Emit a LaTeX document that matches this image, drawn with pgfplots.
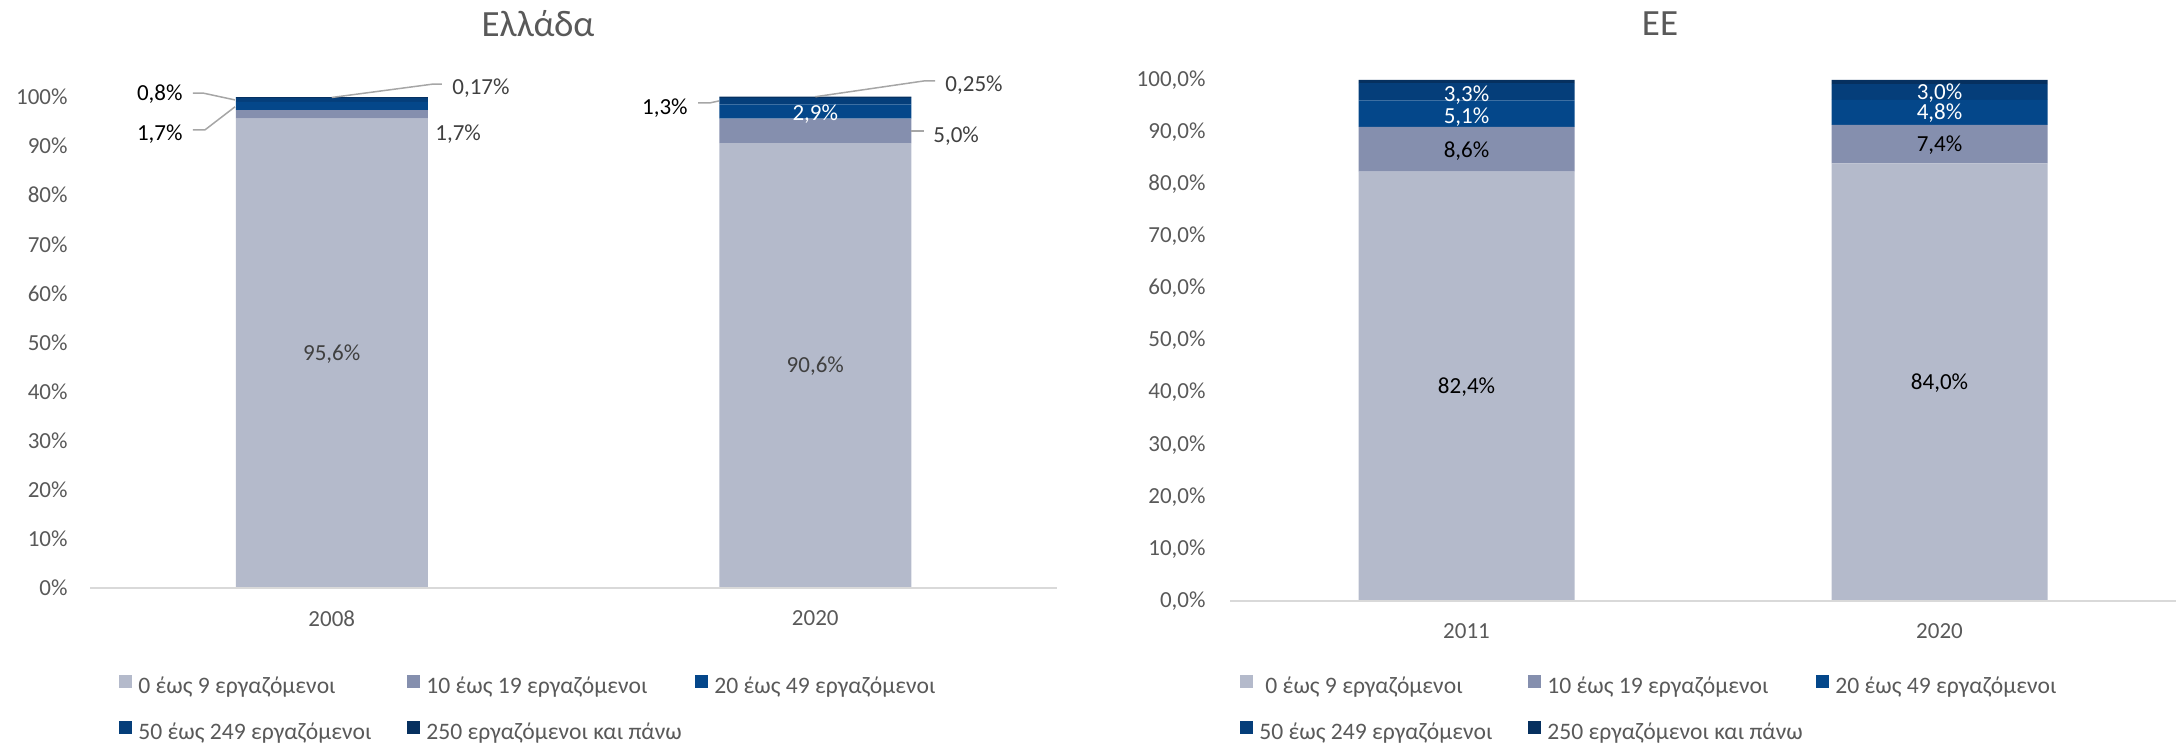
\documentclass[border=0pt]{standalone}
\usepackage{fontspec}
\setmainfont{Carlito}
\usepackage{pgfplots}
\usepackage{pgfplotstable}
\pgfplotsset{compat=1.18}
\definecolor{cA}{HTML}{B4BACB}
\definecolor{cB}{HTML}{858FAE}
\definecolor{cC}{HTML}{04478A}
\definecolor{cD}{HTML}{053E7A}
\definecolor{cE}{HTML}{06305F}
\definecolor{txt}{HTML}{595959}
\definecolor{lbl}{HTML}{404040}
\definecolor{lead}{HTML}{A6A6A6}
\definecolor{axln}{HTML}{D9D9D9}

% share of enterprises by size class (%)
\pgfplotstableread{
x a b c d e
0 95.6 1.7 1.7 0.8 0.17
1 90.6 5.0 2.9 1.3 0.25
}\grdata
\pgfplotstableread{
x a b c d e
0 82.4 8.6 5.1 3.3 0.6
1 84.0 7.4 4.8 3.0 0.8
}\eudata

\tikzset{lab/.style={font=\fontsize{11.5}{13}\selectfont, inner sep=0pt, text height=7.3pt, text depth=0pt}}

\pgfplotsset{
  sqlegend/.style={legend image code/.code={\fill[##1] (0pt,-0.05pt) rectangle (6.5pt,6.45pt);}},
  frame/.style={scale only axis, anchor=south west, xmin=-0.5, xmax=1.5, ymin=0, ymax=100, clip=false},
  labels/.style={frame, hide axis},
  barchart/.style={
    frame,
    ybar stacked,
    xtick={0,1}, ytick={0,10,...,100},
    axis line style={draw=none}, major tick length=0pt, tick style={draw=none},
    tick label style={font=\fontsize{11.5}{13}\selectfont, text=txt},
    xticklabel style={yshift=-7.7pt},
    legend columns=3,
    legend style={draw=none, fill=none, anchor=north west, inner sep=0pt, row sep=11pt,
      font=\fontsize{11.8}{13}\selectfont, text=txt,
      nodes={inner sep=0pt, text height=8pt, text depth=2.5pt},
      /tikz/every odd column/.style={column sep=3pt}},
  },
}

\begin{document}
\begin{tikzpicture}
\path[use as bounding box] (0,0) rectangle (1089pt,371.5pt);

% Greece
\begin{axis}[barchart,
    at={(45pt,77.5pt)}, width=483.5pt, height=245.5pt, bar width=96pt,
    xticklabels={2008,2020},
    yticklabels={0\%,10\%,20\%,30\%,40\%,50\%,60\%,70\%,80\%,90\%,100\%},
    yticklabel style={xshift=-7.7pt},
    legend style={at={(0.030,-0.1772)}},
  ]
  \addplot[fill=cA, draw=none, sqlegend] table[x=x,y=a]{\grdata};
  \addlegendentry{\makebox[134.5pt][l]{0 έως 9 εργαζόμενοι}}
  \addplot[fill=cB, draw=none, sqlegend] table[x=x,y=b]{\grdata};
  \addlegendentry{\makebox[134.5pt][l]{10 έως 19 εργαζόμενοι}}
  \addplot[fill=cC, draw=none, sqlegend] table[x=x,y=c]{\grdata};
  \addlegendentry{\makebox[134.5pt][l]{20 έως 49 εργαζόμενοι}}
  \addplot[fill=cD, draw=none, sqlegend] table[x=x,y=d]{\grdata};
  \addlegendentry{\makebox[134.5pt][l]{50 έως 249 εργαζόμενοι}}
  \addplot[fill=cE, draw=none, sqlegend] table[x=x,y=e]{\grdata};
  \addlegendentry{\makebox[134.5pt][l]{250 εργαζόμενοι και πάνω}}
\end{axis}
% labels over the Greek bars
\begin{axis}[labels, at={(45pt,77.5pt)}, width=483.5pt, height=245.5pt]
  \draw[axln, line width=1pt] (axis cs:-0.5,0) -- (axis cs:1.5,0);
  % 2008
  \draw[lead, line width=0.75pt] (axis cs:-0.287,100.8) -- (axis cs:-0.2663,100.8) -- (axis cs:-0.2001,99.4);
  \draw[lead, line width=0.75pt] (axis cs:-0.287,93.3) -- (axis cs:-0.2622,93.3) -- (axis cs:-0.2001,98.0);
  \draw[lead, line width=0.75pt] (axis cs:0.228,102.6) -- (axis cs:0.2073,102.6) -- (axis cs:0,99.9);
  \node[lab, anchor=east] at (axis cs:-0.3077,100.8) {0,8\%};
  \node[lab, anchor=east] at (axis cs:-0.3077,92.7) {1,7\%};
  \node[lab, anchor=west, text=lbl] at (axis cs:0.2487,102.0) {0,17\%};
  \node[lab, anchor=west, text=lbl] at (axis cs:0.2135,92.7) {1,7\%};
  \node[lab, text=lbl] at (axis cs:0,47.8) {95,6\%};
  % 2020
  \draw[lead, line width=0.75pt] (axis cs:0.7575,98.8) -- (axis cs:0.7823,98.8) -- (axis cs:0.8009,99.2);
  \draw[lead, line width=0.75pt] (axis cs:1.2477,103.3) -- (axis cs:1.227,103.3) -- (axis cs:1.0,100.05);
  \draw[lead, line width=0.75pt] (axis cs:1.199,93.1) -- (axis cs:1.2249,93.1);
  \node[lab, anchor=east] at (axis cs:0.7368,98.0) {1,3\%};
  \node[lab, anchor=west, text=lbl] at (axis cs:1.2684,102.6) {0,25\%};
  \node[lab, text=white] at (axis cs:1,96.8) {2,9\%};
  \node[lab, anchor=west, text=lbl] at (axis cs:1.2435,92.3) {5,0\%};
  \node[lab, text=lbl] at (axis cs:1,45.3) {90,6\%};
\end{axis}

% EU
\begin{axis}[barchart,
    at={(615pt,71pt)}, width=473pt, height=260.5pt, bar width=108pt,
    xticklabels={2011,2020},
    yticklabels={{0,0\%},{10,0\%},{20,0\%},{30,0\%},{40,0\%},{50,0\%},{60,0\%},{70,0\%},{80,0\%},{90,0\%},{100,0\%}},
    yticklabel style={xshift=-8.7pt},
    legend style={at={(0.0106,-0.142)}},
  ]
  \addplot[fill=cA, draw=none, sqlegend] table[x=x,y=a]{\eudata};
  \addlegendentry{\makebox[134.5pt][l]{\hspace{3pt}0 έως 9 εργαζόμενοι}}
  \addplot[fill=cB, draw=none, sqlegend] table[x=x,y=b]{\eudata};
  \addlegendentry{\makebox[134.5pt][l]{10 έως 19 εργαζόμενοι}}
  \addplot[fill=cC, draw=none, sqlegend] table[x=x,y=c]{\eudata};
  \addlegendentry{\makebox[134.5pt][l]{20 έως 49 εργαζόμενοι}}
  \addplot[fill=cD, draw=none, sqlegend] table[x=x,y=d]{\eudata};
  \addlegendentry{\makebox[134.5pt][l]{50 έως 249 εργαζόμενοι}}
  \addplot[fill=cE, draw=none, sqlegend] table[x=x,y=e]{\eudata};
  \addlegendentry{\makebox[134.5pt][l]{250 εργαζόμενοι και πάνω}}
\end{axis}
\begin{axis}[labels, at={(615pt,71pt)}, width=473pt, height=260.5pt]
  \draw[axln, line width=1pt] (axis cs:-0.5,0) -- (axis cs:1.5,0);
  \node[lab] at (axis cs:0,41.2) {82,4\%};
  \node[lab] at (axis cs:0,86.6) {8,6\%};
  \node[lab, text=white] at (axis cs:0,93.1) {5,1\%};
  \node[lab, text=white] at (axis cs:0,97.3) {3,3\%};
  \node[lab] at (axis cs:1,42.0) {84,0\%};
  \node[lab] at (axis cs:1,87.7) {7,4\%};
  \node[lab, text=white] at (axis cs:1,93.8) {4,8\%};
  \node[lab, text=white] at (axis cs:1,97.6) {3,0\%};
\end{axis}

\node[font=\fontsize{18.5}{22}\selectfont, text=txt] at (269pt,359.5pt) {Ελλάδα};
\node[font=\fontsize{18.5}{22}\selectfont, text=txt] at (830pt,359.5pt) {ΕΕ};
\end{tikzpicture}
\end{document}
